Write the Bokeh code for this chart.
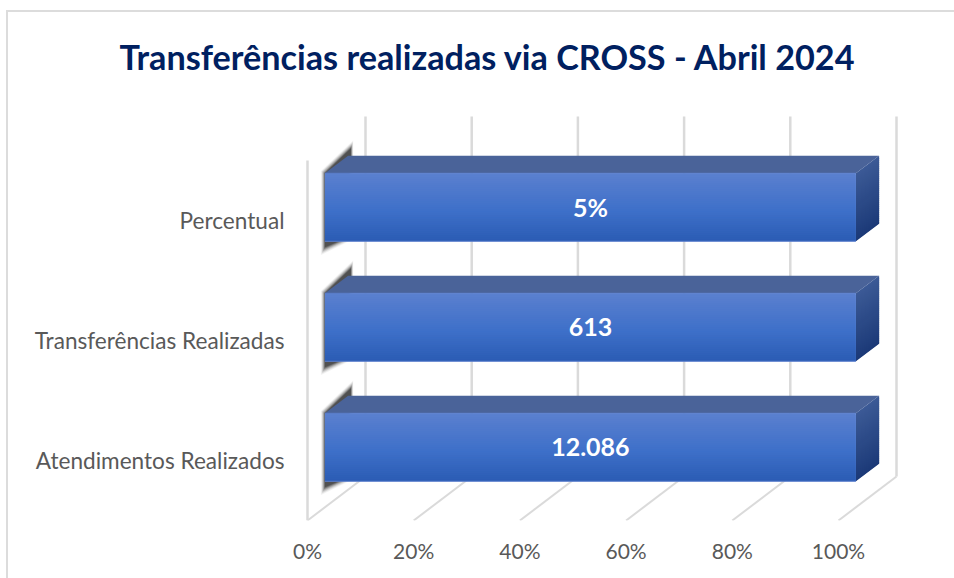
from bokeh.plotting import figure
from bokeh.embed import file_html
from bokeh.resources import INLINE
from bokeh.models import FixedTicker
from bokeh.core.properties import value

title_text = "Transferências realizadas via CROSS - Abril 2024"
categories = ["Atendimentos Realizados", "Transferências Realizadas", "Percentual"]
shares = [100, 100, 100]
bar_labels = ["12.086", "613", "5%"]
x_ticks = [0, 20, 40, 60, 80, 100]
x_tick_labels = ["0%", "20%", "40%", "60%", "80%", "100%"]

OX, OY = 6, 10                           # figure origin on the page
W, H = 948, 568
FL, FR, FT, FB = 292, 954, 100, 520      # plot frame on the page
PX = 100 / 531.0                         # data units per px, x
PY = 1 / 120.0                           # data units per px, y
DX, DY = 58 * PX, 44 * PY                # full depth of the 3D box
BAR_H = 68 * PY
D0, D1 = 0.3, 0.7                        # bar front/back depth

p = figure(width=W, height=H, output_backend="svg", toolbar_location=None,
           x_range=((FL - 307) * PX, (FR - 307) * PX),
           y_range=(-0.5, -0.5 + (FB - FT) * PY),
           min_border_left=FL - OX, min_border_right=0,
           min_border_top=FT - OY, min_border_bottom=OY + H - FB,
           outline_line_color=None, background_fill_color="white",
           border_fill_color=None, margin=(OY, 0, 0, OX),
           styles={"box-shadow": "inset 2px 2px 0 #dcdcdc"})
p.grid.visible = False

# axes
ax = p.xaxis[0]
ax.ticker = FixedTicker(ticks=x_ticks)
ax.major_label_overrides = {t: l for t, l in zip(x_ticks, x_tick_labels)}
ax.axis_line_color = None
ax.major_tick_line_color = None
ax.minor_tick_line_color = None
ax.major_label_text_font = "Lato"
ax.major_label_text_font_size = "21px"
ax.major_label_text_color = "#595959"
ax.major_label_standoff = 11

ay = p.yaxis[0]
ay.ticker = FixedTicker(ticks=list(range(len(categories))))
ay.major_label_overrides = {i: c for i, c in enumerate(categories)}
ay.axis_line_color = None
ay.major_tick_line_color = None
ay.minor_tick_line_color = None
ay.major_label_text_font = "Lato"
ay.major_label_text_font_size = "22.6px"
ay.major_label_text_color = "#595959"
ay.major_label_standoff = 2

# walls and floor
GRID = "#dadada"
y0, ytop = -0.5, 2.5
p.segment(x0=x_ticks, y0=[y0] * 6, x1=[t + DX for t in x_ticks], y1=[y0 + DY] * 6,
          line_color=GRID, line_width=2)
p.segment(x0=[t + DX for t in x_ticks], y0=[y0 + DY] * 6,
          x1=[t + DX for t in x_ticks], y1=[ytop + DY] * 6,
          line_color=GRID, line_width=2.5)
p.segment(x0=[0], y0=[y0], x1=[0], y1=[ytop], line_color=GRID, line_width=2.5)


def mix(a, b, t):
    return "#%02x%02x%02x" % tuple(round(a[i] + (b[i] - a[i]) * t) for i in range(3))


def stops(c, t):
    for i in range(len(c) - 1):
        (t0, a), (t1, b) = c[i], c[i + 1]
        if t <= t1:
            return mix(a, b, (t - t0) / (t1 - t0))
    return mix(c[-1][1], c[-1][1], 0)


FRONT = [(0, (0x5b, 0x80, 0xcf)), (0.55, (0x3e, 0x70, 0xc9)), (1, (0x2b, 0x5c, 0xb4))]
SIDE = [(0, (0x3c, 0x5a, 0x96)), (1, (0x1c, 0x3a, 0x78))]
TOP = "#4a6399"
EDGE = "#5a7fce"
LAYERS = [(8, 0.04), (7, 0.05), (6, 0.07), (5, 0.09), (4, 0.12), (3, 0.15), (2, 0.2), (1, 0.26), (0, 0.34)]

for i, v in enumerate(shares):
    cy = float(i)
    x_front0, x_front1 = D0 * DX, v + D0 * DX
    yb = cy - BAR_H / 2 + D0 * DY
    yt = cy + BAR_H / 2 + D0 * DY
    ddx, ddy = (D1 - D0) * DX, (D1 - D0) * DY

    # soft shadow cast on the left, stacked translucent layers
    for o, a in LAYERS:
        offs = [(0 - 0.5 * o, -0.3 * o), (26 + 0.3 * o, -25 - o), (26 + 0.3 * o, -14), (14 + 1.3 * o, 66),
                (14 + 1.3 * o, 68), (0 - 0.5 * o, 74 + o)]
        p.patch([x_front0 + a_ * PX for a_, _ in offs],
                [yt - b_ * PY for _, b_ in offs],
                fill_color="#202020", fill_alpha=a, line_color=None)

    # top face
    p.patch([x_front0, x_front0 + ddx, x_front1 + ddx, x_front1],
            [yt, yt + ddy, yt + ddy, yt], fill_color=TOP, line_color=None)
    # right face and front face, gradient in overlapping slices
    n = 34
    span = yt - yb
    for k in range(n):
        s0 = yt - span * k / n
        s1 = max(yb, yt - span * (k + 1) / n - 1.5 * PY)
        p.patch([x_front1, x_front1 + ddx, x_front1 + ddx, x_front1],
                [s0, s0 + ddy, s1 + ddy, s1], fill_color=stops(SIDE, (k + .5) / n),
                line_color=None)
    tops = [yt - span * k / n for k in range(n)]
    bots = [max(yb, yt - span * (k + 1) / n - 1.5 * PY) for k in range(n)]
    cols = [stops(FRONT, (k + .5) / n) for k in range(n)]
    p.quad(left=[x_front0] * n, right=[x_front1] * n, top=tops, bottom=bots,
           fill_color=cols, line_color=None)
    p.segment(x0=[x_front0, x_front0], y0=[yt, yb], x1=[x_front1, x_front1], y1=[yt, yb],
              line_color=EDGE, line_width=1)
    p.text(x=[v / 2 + D0 * DX], y=[cy + D0 * DY], text=[bar_labels[i]],
           text_color="white", text_font=value("Lato"), text_font_style="bold",
           text_font_size="25px", text_align="center", text_baseline="middle")

p.title.text = title_text
p.title.align = "left"
p.title.offset = 119 - FL
p.title.text_font = "Lato"
p.title.text_font_style = "bold"
p.title.text_font_size = "34.2px"
p.title.text_color = "#002060"
p.title.standoff = 47

open("out.html", "w").write(file_html(p, INLINE))
